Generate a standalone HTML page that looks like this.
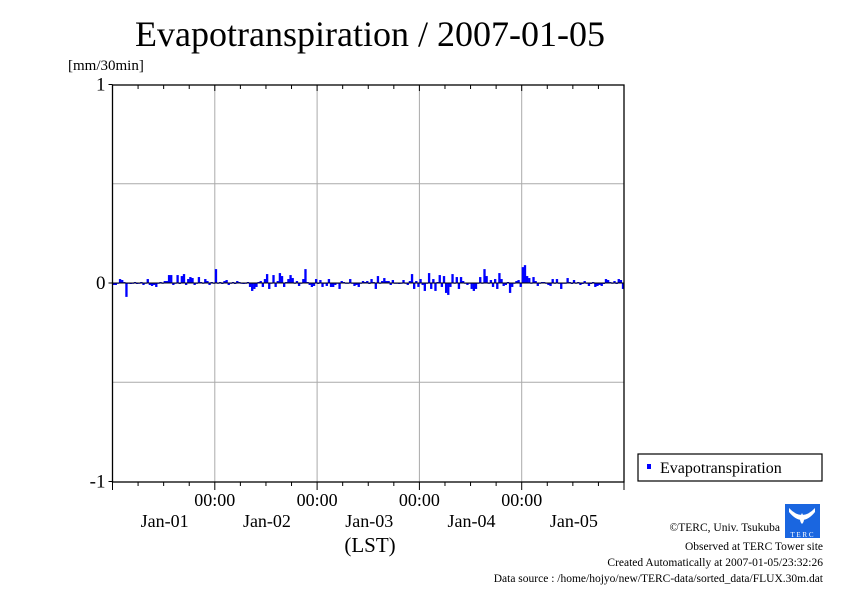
<!DOCTYPE html>
<html><head><meta charset="utf-8"><style>
body{margin:0;background:#fff;}
svg text{font-family:"Liberation Serif",serif;fill:#000;}
</style></head><body>
<svg width="842" height="595" viewBox="0 0 842 595">
<text x="370" y="46" font-size="36" text-anchor="middle">Evapotranspiration / 2007-01-05</text>
<text x="68" y="70" font-size="15">[mm/30min]</text>
<g id="grid"></g>
<g id="bars"></g>
<g id="axes"></g>
<rect x="638" y="454" width="184" height="27" fill="#fff" stroke="#000" stroke-width="1.2"/>
<rect x="647" y="464" width="4" height="5" fill="#0000ff"/>
<text x="660" y="473" font-size="16">Evapotranspiration</text>
<text x="370" y="552" font-size="21" text-anchor="middle">(LST)</text>
<g font-size="11.5" text-anchor="end">
<text x="780" y="531">©TERC, Univ. Tsukuba</text>
<text x="823" y="550">Observed at TERC Tower site</text>
<text x="823" y="566">Created Automatically at 2007-01-05/23:32:26</text>
<text x="823" y="582">Data source : /home/hojyo/new/TERC-data/sorted_data/FLUX.30m.dat</text>
</g>
<g>
<rect x="785" y="504" width="35" height="34" fill="#1a66e0"/>
<path d="M789 508 Q802 522 815 508 L815 512 Q802 528 789 512Z" fill="#fff"/>
<path d="M802 513 Q806 520 802 524 Q798 520 802 513Z" fill="#fff"/>
<text x="802" y="537" font-size="7" text-anchor="middle" style="fill:#fff" font-family="Liberation Sans">T E R C</text>
</g>
</svg>
<script>
const yTicks=[1,0,-1];
const dayLabels=["Jan-01","Jan-02","Jan-03","Jan-04","Jan-05"];
const values=[
-0.01,-0.01,0.0,0.02,0.015,0.005,-0.07,0.0,-0.005,0.0,0.005,-0.005,0.0,0.005,-0.01,0.0,0.02,-0.01,-0.015,-0.01,-0.02,0.0,0.005,0.0,0.01,0.01,0.04,0.04,-0.01,0.0,0.04,-0.005,0.035,0.045,-0.01,0.02,0.03,0.025,-0.01,0.0,0.03,0.005,0.0,0.02,0.01,-0.01,0.005,0.0,
0.07,0.0,0.005,-0.005,0.01,0.015,-0.01,0.0,0.005,-0.005,0.01,0.005,0.0,-0.005,0.0,0.005,-0.02,-0.04,-0.03,-0.02,0.005,0.01,-0.02,0.02,0.045,-0.03,0.0,0.04,-0.02,0.01,0.05,0.035,-0.02,0.005,0.02,0.04,0.025,0.0,0.01,-0.015,0.0,0.02,0.07,0.005,-0.01,-0.02,-0.015,0.02,
-0.005,0.015,-0.02,0.0,-0.015,0.02,-0.02,-0.02,-0.01,0.0,-0.03,0.01,0.005,0.0,0.0,0.02,0.0,-0.015,-0.01,-0.02,0.0,0.01,0.005,0.01,-0.005,0.02,0.005,-0.03,0.035,0.0,0.01,0.025,0.01,0.01,-0.01,0.015,0.0,0.0,-0.005,0.0,0.015,0.0,-0.01,0.01,0.045,-0.03,0.01,-0.02,
0.02,-0.01,-0.04,0.0,0.05,-0.03,0.02,-0.04,0.005,0.04,-0.02,0.035,-0.05,-0.06,-0.02,0.045,0.0,0.03,-0.03,0.03,0.01,0.0,-0.01,0.0,-0.03,-0.04,-0.03,0.0,0.03,0.0,0.07,0.035,0.0,0.015,-0.02,0.02,-0.03,0.05,0.02,-0.015,-0.01,0.005,-0.05,-0.02,0.0,0.01,0.015,-0.02,
0.08,0.09,0.035,0.025,0.0,0.03,0.01,-0.015,0.0,0.005,0.005,0.0,-0.01,-0.015,0.02,0.0,0.02,0.0,-0.03,0.0,0.0,0.025,0.005,-0.005,0.015,0.0,0.005,-0.01,-0.005,0.01,0.0,-0.015,-0.005,0.005,-0.02,-0.015,-0.01,-0.015,-0.005,0.02,0.015,0.005,0.0,0.01,-0.005,0.02,0.015,-0.03
];
const X0=112.5,X1=624,YT=85,YB=482,N=values.length;
const xScale=i=>X0+(X1-X0)*i/N;
const yScale=v=>283-(v*(YB-YT)/2);
const NS="http://www.w3.org/2000/svg";
function mk(tag,at,parent){const e=document.createElementNS(NS,tag);for(const k in at)e.setAttribute(k,at[k]);parent.appendChild(e);return e;}
const grid=document.getElementById('grid'),bars=document.getElementById('bars'),axes=document.getElementById('axes');
[0.5,0,-0.5].forEach(v=>{const l=mk('line',{x1:X0,x2:X1,y1:yScale(v),y2:yScale(v),stroke:'#aaa','stroke-width':1},grid);

});
for(let d=1;d<5;d++){const x=xScale(d*48);const l=mk('line',{x1:x,x2:x,y1:YT,y2:YB,stroke:'#aaa','stroke-width':1},grid);

}
values.forEach((v,i)=>{const y=yScale(v);const r=mk('rect',{x:xScale(i),y:Math.min(y,283),width:(X1-X0)/N+0.2,height:Math.max(Math.abs(y-283),0.8),fill:'#0000ff'},bars);

});
const zl=mk('line',{x1:X0,x2:X1,y1:283,y2:283,stroke:'#000','stroke-width':1},axes);


const fr=mk('rect',{x:X0,y:YT,width:X1-X0,height:YB-YT,fill:'none',stroke:'#000','stroke-width':1.3},axes);


yTicks.forEach(v=>{const y=yScale(v);mk('line',{x1:X0-4,x2:X0,y1:y,y2:y,stroke:'#000'},axes);
const t=mk('text',{x:X0-7,y:y+6,'font-size':19,'text-anchor':'end'},axes);t.textContent=v;

});
for(let k=0;k<=20;k++){const x=xScale(k*12);const major=k%4===0;
mk('line',{x1:x,x2:x,y1:YB,y2:YB+(major?8:4),stroke:'#000'},axes);
mk('line',{x1:x,x2:x,y1:YT,y2:YT+(major?6:4),stroke:'#000'},axes);}
for(let d=1;d<5;d++){const t=mk('text',{x:xScale(d*48),y:506,'font-size':18,'text-anchor':'middle'},axes);t.textContent='00:00';

}
dayLabels.forEach((s,d)=>{const t=mk('text',{x:xScale(d*48+24)+1,y:527,'font-size':18,'text-anchor':'middle'},axes);t.textContent=s;

});
</script>
</body></html>
